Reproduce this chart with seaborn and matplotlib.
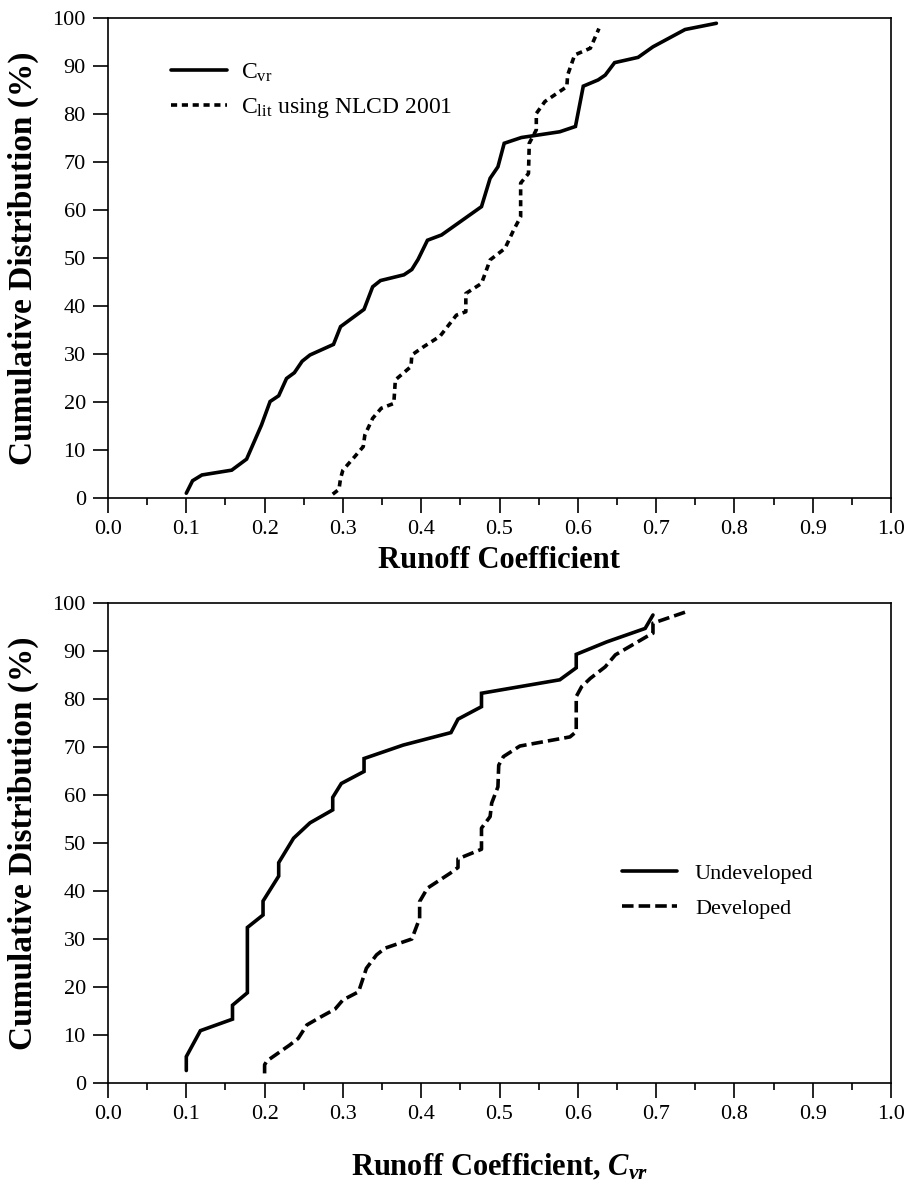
import numpy as np
import pandas as pd
import matplotlib
matplotlib.use("Agg")
import matplotlib.pyplot as plt
import seaborn as sns
from matplotlib.ticker import MultipleLocator

# ---------------- data ----------------
cvr_x = [0.100, 0.108, 0.120, 0.158, 0.177, 0.196, 0.207, 0.218, 0.228, 0.238,
         0.248, 0.258, 0.288, 0.297, 0.307, 0.327, 0.338, 0.348, 0.378, 0.388,
         0.396, 0.408, 0.426, 0.477, 0.488, 0.498, 0.506, 0.528, 0.577, 0.597,
         0.607, 0.626, 0.635, 0.647, 0.677, 0.696, 0.737, 0.777]
cvr_y = [1.0, 3.6, 4.8, 5.8, 8.1, 15.2, 20.1, 21.3, 24.9, 26.1,
         28.5, 29.8, 32.0, 35.7, 36.9, 39.3, 44.0, 45.3, 46.5, 47.6,
         49.7, 53.7, 54.8, 60.7, 66.6, 69.0, 73.9, 75.1, 76.3, 77.4,
         85.8, 87.1, 88.1, 90.7, 91.8, 94.0, 97.6, 98.9]

clit_x = [0.287, 0.295, 0.297, 0.300, 0.315, 0.326, 0.328, 0.338, 0.349, 0.365,
          0.367, 0.387, 0.388, 0.403, 0.424, 0.445, 0.457, 0.457, 0.477, 0.488,
          0.507, 0.518, 0.527, 0.527, 0.537, 0.538, 0.547, 0.547, 0.558, 0.586,
          0.587, 0.596, 0.616, 0.627]
clit_y = [0.8, 1.8, 4.1, 5.8, 8.6, 10.7, 13.1, 16.6, 18.7, 19.7,
          24.6, 27.4, 29.8, 31.5, 33.7, 38.1, 38.8, 42.6, 44.7, 49.6,
          52.0, 55.8, 58.6, 65.6, 67.6, 73.9, 76.7, 80.1, 82.6, 85.7,
          88.1, 92.3, 93.7, 97.8]

undev_x = [0.100, 0.100, 0.118, 0.159, 0.159, 0.178, 0.178, 0.198, 0.198, 0.218,
           0.218, 0.237, 0.258, 0.287, 0.287, 0.298, 0.327, 0.327, 0.377, 0.438,
           0.447, 0.477, 0.477, 0.577, 0.598, 0.598, 0.637, 0.686, 0.696]
undev_y = [2.6, 5.5, 10.9, 13.3, 16.2, 18.8, 32.4, 35.0, 37.9, 43.1,
           45.9, 51.0, 54.2, 56.9, 59.5, 62.4, 64.9, 67.6, 70.4, 73.0,
           75.8, 78.4, 81.2, 84.0, 86.5, 89.3, 91.9, 94.7, 97.5]

dev_x = [0.200, 0.200, 0.203, 0.232, 0.243, 0.254, 0.271, 0.290, 0.300, 0.320,
         0.328, 0.330, 0.343, 0.354, 0.388, 0.398, 0.398, 0.408, 0.437, 0.447,
         0.447, 0.477, 0.477, 0.488, 0.490, 0.498, 0.499, 0.505, 0.526, 0.590,
         0.598, 0.598, 0.605, 0.616, 0.635, 0.648, 0.688, 0.696, 0.696, 0.739]
dev_y = [2.0, 3.8, 4.6, 7.9, 9.3, 12.1, 13.7, 15.4, 17.3, 19.0,
         22.9, 23.9, 26.7, 28.1, 30.0, 34.3, 37.8, 40.6, 43.7, 44.9,
         46.7, 48.7, 53.1, 55.5, 58.3, 61.7, 66.2, 68.0, 70.2, 72.1,
         73.2, 80.5, 82.6, 84.3, 86.7, 89.2, 93.0, 93.7, 95.8, 98.2]

top_labels = [r"$\mathrm{C}_{\mathrm{vr}}$", r"$\mathrm{C}_{\mathrm{lit}}$ using NLCD 2001"]
bot_labels = ["Undeveloped", "Developed"]
x_ticks = [0.0, 0.1, 0.2, 0.3, 0.4, 0.5, 0.6, 0.7, 0.8, 0.9, 1.0]
y_ticks = [0, 10, 20, 30, 40, 50, 60, 70, 80, 90, 100]

# ---------------- styling ----------------
sns.set_theme(style="ticks")
plt.rcParams["font.family"] = ["Liberation Serif", "DejaVu Serif"]
plt.rcParams["mathtext.fontset"] = "custom"
plt.rcParams["mathtext.rm"] = "Liberation Serif"
plt.rcParams["mathtext.it"] = "Liberation Serif:italic"
plt.rcParams["mathtext.bf"] = "Liberation Serif:bold"
plt.rcParams["mathtext.bfit"] = "Liberation Serif:italic:bold"
for key in ("text.color", "axes.labelcolor", "xtick.color", "ytick.color",
            "axes.edgecolor", "xtick.labelcolor", "ytick.labelcolor"):
    plt.rcParams[key] = "black"

fig = plt.figure(figsize=(9.08, 11.96), dpi=100)
ax1 = fig.add_axes([108 / 908, 1 - 498 / 1196, 783 / 908, 480 / 1196])
ax2 = fig.add_axes([108 / 908, 1 - 1083 / 1196, 783 / 908, 480 / 1196])

LW = 2.6


def draw(ax, xs1, ys1, xs2, ys2, names, dash2):
    df = pd.DataFrame({
        "x": list(xs1) + list(xs2),
        "y": list(ys1) + list(ys2),
        "series": [names[0]] * len(xs1) + [names[1]] * len(xs2),
    })
    sns.lineplot(data=df, x="x", y="y", style="series",
                 dashes={names[0]: "", names[1]: dash2},
                 color="black", sort=False, estimator=None,
                 linewidth=LW, legend=False, ax=ax)
    for ln in ax.lines:
        ln.set_solid_joinstyle("miter")
        ln.set_dash_capstyle("butt")
    return ax.lines[0], ax.lines[1]


l1, l2 = draw(ax1, cvr_x, cvr_y, clit_x, clit_y, top_labels, (1.7, 1.3))
l3, l4 = draw(ax2, undev_x, undev_y, dev_x, dev_y, bot_labels, (3.2, 1.4))

for ax in (ax1, ax2):
    ax.set_xlim(0, 1.0)
    ax.set_ylim(0, 100)
    ax.set_xticks(x_ticks)
    ax.set_xticklabels([f"{t:.1f}" for t in x_ticks])
    ax.set_yticks(y_ticks)
    ax.set_yticklabels([str(t) for t in y_ticks])
    ax.xaxis.set_minor_locator(MultipleLocator(0.05))
    ax.tick_params(axis="both", which="major", direction="out", length=11,
                   width=1.2, color="black", labelcolor="black",
                   labelsize=16, pad=5)
    ax.tick_params(axis="x", which="minor", direction="out", length=5,
                   width=1.2, color="black")
    for s in ax.spines.values():
        s.set_visible(True)
        s.set_linewidth(1.2)
        s.set_color("black")
    ax.set_ylabel("Cumulative Distribution (%)", fontsize=24,
                  fontweight="bold", labelpad=10, color="black")
    ax.grid(False)

ax1.set_xlabel("Runoff Coefficient", fontsize=22, fontweight="bold",
               labelpad=5, color="black")
ax2.set_xlabel("Runoff Coefficient, " + r"$\mathbfit{C}_{\mathbfit{vr}}$",
               fontsize=22, fontweight="bold", labelpad=20, color="black")

ax1.legend([l1, l2], top_labels, loc="upper left", bbox_to_anchor=(0.08, 0.91),
           frameon=False, fontsize=17, handlelength=2.4, handletextpad=0.6,
           labelspacing=0.54, borderpad=0, borderaxespad=0)
ax2.legend([l3, l4], bot_labels, loc="center left", bbox_to_anchor=(0.656, 0.40),
           frameon=False, fontsize=16, handlelength=2.5, handletextpad=0.8,
           labelspacing=0.64, borderpad=0, borderaxespad=0)

fig.savefig("out.png", dpi=100)
